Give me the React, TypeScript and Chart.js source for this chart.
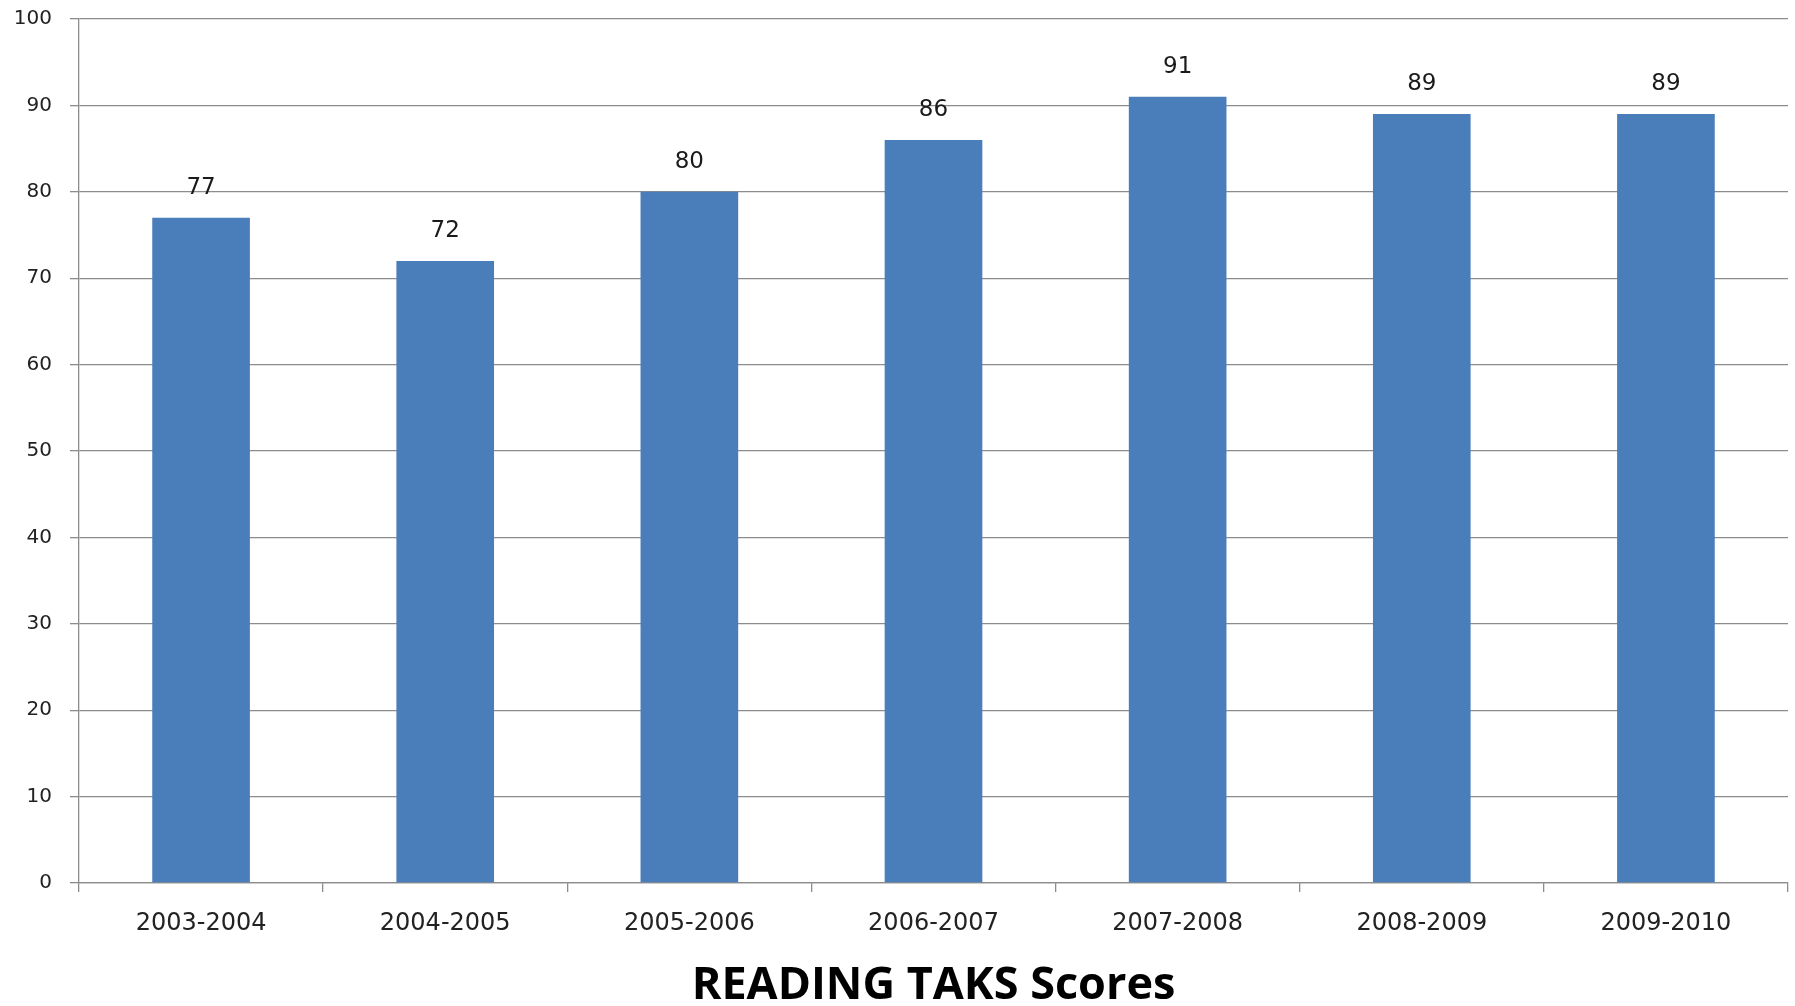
import React, { useEffect, useRef } from "react";
import { Chart, registerables } from "chart.js";

Chart.register(...registerables);

const categories: string[] = [
  "2003-2004",
  "2004-2005",
  "2005-2006",
  "2006-2007",
  "2007-2008",
  "2008-2009",
  "2009-2010",
];
const scores: number[] = [77, 72, 80, 86, 91, 89, 89];
const yTickMin = 0;
const yTickMax = 100;
const yTickStep = 10;
const chartTitle = "READING TAKS Scores";

const valueLabels = {
  id: "valueLabels",
  afterDatasetsDraw(chart: any) {
    const ctx = chart.ctx;
    const meta = chart.getDatasetMeta(0);
    const data = chart.data.datasets[0].data as number[];
    ctx.save();
    ctx.font = "23px 'DejaVu Sans'";
    ctx.fillStyle = "#1a1a1a";
    ctx.textAlign = "center";
    ctx.textBaseline = "middle";
    meta.data.forEach((bar: any, i: number) => {
      ctx.fillText(String(data[i]), bar.x, bar.y - 30);
    });
    ctx.restore();
  },
};

export default function App() {
  const ref = useRef<HTMLCanvasElement | null>(null);

  useEffect(() => {
    if (!ref.current) return;
    const chart = new Chart(ref.current, {
      type: "bar",
      data: {
        labels: categories,
        datasets: [
          {
            data: scores,
            backgroundColor: "#4a7ebb",
            borderWidth: 0,
            barPercentage: 0.4,
            categoryPercentage: 1.0,
          },
        ],
      },
      options: {
        responsive: false,
        animation: false,
        devicePixelRatio: 1,
        layout: { padding: { left: 0, right: 7, top: 19, bottom: 0 } },
        plugins: {
          legend: { display: false },
          tooltip: { enabled: false },
          title: { display: false },
        },
        scales: {
          y: {
            min: yTickMin,
            max: yTickMax,
            ticks: {
              stepSize: yTickStep,
              padding: 18,
              color: "#222",
              font: { family: "'DejaVu Sans'", size: 20 },
            },
            grid: { color: "#8c8c8c", tickLength: 9, lineWidth: 1.3 },
            border: { color: "#8c8c8c", width: 1.3 },
            afterFit(s: any) {
              s.width = 79;
              s.paddingTop = 0;
              s.paddingBottom = 0;
            },
          },
          x: {
            grid: {
              display: true,
              drawOnChartArea: false,
              drawTicks: true,
              tickLength: 9,
              color: "#8c8c8c",
              lineWidth: 1.3,
              offset: true,
            },
            border: { color: "#8c8c8c", width: 1.3 },
            ticks: {
              padding: 17,
              color: "#222",
              font: { family: "'DejaVu Sans'", size: 24 },
            },
            title: {
              display: true,
              text: chartTitle,
              color: "#000",
              font: { family: "'Open Sans'", size: 45, weight: "bold", lineHeight: 1 },
              padding: { top: 0, bottom: -3 },
            },
            afterFit(s: any) {
              s.height = 123;
            },
          },
        },
      },
      plugins: [valueLabels],
    });
    return () => chart.destroy();
  }, []);

  return (
    <div
      style={{
        position: "fixed",
        left: 0,
        top: 0,
        width: 1795,
        height: 1006,
        background: "#fff",
      }}
    >
      <canvas ref={ref} width={1795} height={1006} />
    </div>
  );
}
